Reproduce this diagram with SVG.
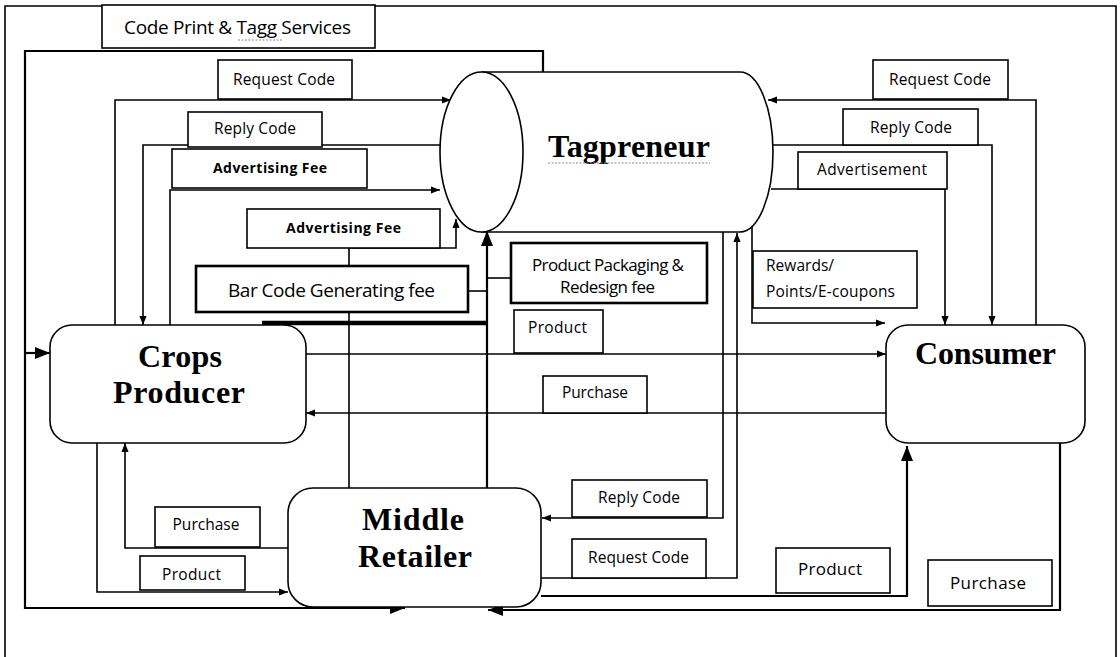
<svg xmlns="http://www.w3.org/2000/svg" width="1120" height="657" viewBox="0 0 1120 657">
<style>
.ln{fill:none;stroke:#000;stroke-width:1.6}
.lt{fill:none;stroke:#000;stroke-width:2.2}
.bx{fill:#fff;stroke:#000;stroke-width:1.6}
.bt{fill:#fff;stroke:#000;stroke-width:2.6}
.nd{fill:#fff;stroke:#000;stroke-width:1.6}
.lb{font-family:"Open Sans","Liberation Sans",sans-serif;font-size:15.5px;fill:#000;text-anchor:middle}
.lbb{font-family:"Open Sans","Liberation Sans",sans-serif;font-size:14px;font-weight:bold;fill:#000;text-anchor:middle}
.nt{font-family:"Liberation Serif","DejaVu Serif",serif;font-size:32px;font-weight:bold;fill:#000;text-anchor:middle}
.sq{fill:none;stroke:#888;stroke-width:1;stroke-dasharray:2 1.5}
.big{font-size:19px}
.mid{font-size:17px}
.st{text-anchor:start}
</style>
<defs>
<marker id="ah" viewBox="0 0 10 10" refX="10" refY="5" markerWidth="9" markerHeight="9" markerUnits="userSpaceOnUse" orient="auto"><path d="M0,1 L10,5 L0,9 z" fill="#000"/></marker>
<marker id="ahL" viewBox="0 0 10 10" refX="10" refY="5" markerWidth="15" markerHeight="15" markerUnits="userSpaceOnUse" orient="auto"><path d="M0,1 L10,5 L0,9 z" fill="#000"/></marker>
</defs>
<rect width="1120" height="657" fill="#fff"/>
<path d="M5,657 V6 H1116 V657" fill="none" stroke="#000" stroke-width="1.6"/>

<g id="connectors">
<path class="lt" d="M543,72 V51 H25 V608 H405" marker-end="url(#ahL)"/>
<path class="lt" d="M25,353 H50" marker-end="url(#ahL)"/>
<path class="ln" d="M115,325 V100 H451" marker-end="url(#ah)"/>
<path class="ln" d="M440,145 H143 V325" marker-end="url(#ah)"/>
<path class="ln" d="M170,325 V190 H440" marker-end="url(#ah)"/>
<path class="ln" d="M349,488 V248 H456 V219" marker-end="url(#ah)"/>
<path class="ln" d="M468,291 H487"/>
<path class="ln" d="M511,278 H487"/>
<path class="lt" d="M487,488 V231" marker-end="url(#ahL)"/>
<path d="M262,323 H487" stroke="#000" stroke-width="4.5" fill="none"/>
<path class="ln" d="M306,354 H886" marker-end="url(#ah)"/>
<path class="ln" d="M886,413 H306" marker-end="url(#ah)"/>
<path class="ln" d="M1036,325 V100 H768" marker-end="url(#ah)"/>
<path class="ln" d="M772,145 H992 V325" marker-end="url(#ah)"/>
<path class="ln" d="M771,189 H945 V325" marker-end="url(#ah)"/>
<path class="ln" d="M752,227 V323 H885" marker-end="url(#ah)"/>
<path class="ln" d="M723,232 V518 H542" marker-end="url(#ah)"/>
<path class="ln" d="M541,578 H737 V233" marker-end="url(#ah)"/>
<path class="lt" d="M541,596 H907 V446" marker-end="url(#ahL)"/>
<path class="lt" d="M1060,443 V610 H488" marker-end="url(#ahL)"/>
<path class="ln" d="M97,443 V592 H288" marker-end="url(#ah)"/>
<path class="ln" d="M288,548 H125 V443" marker-end="url(#ah)"/>
</g>

<g id="tagpreneur">
<path class="nd" d="M482,72 H740 A33,80 0 0 1 740,232 H482 Z"/>
<ellipse class="nd" cx="481.5" cy="152" rx="41.5" ry="80"/>
<text class="nt" x="629" y="157" textLength="162">Tagpreneur</text>
<path class="sq" d="M548,163 H710"/>
</g>
<g id="crops-producer">
<rect class="nd" x="50" y="325" width="256" height="118" rx="22"/>
<text class="nt" x="180" y="367" textLength="84">Crops</text>
<text class="nt" x="179" y="403" textLength="132">Producer</text>
</g>
<g id="consumer">
<rect class="nd" x="886" y="325" width="199" height="118" rx="22"/>
<text class="nt" x="985.5" y="364" textLength="141">Consumer</text>
</g>
<g id="middle-retailer">
<rect class="nd" x="288" y="488" width="253" height="119" rx="25"/>
<text class="nt" x="413" y="530" textLength="102">Middle</text>
<text class="nt" x="415" y="567" textLength="114">Retailer</text>
</g>

<g id="code-print">
<rect class="bx" x="102" y="5" width="273" height="43"/>
<text class="lb big" x="237.5" y="34" textLength="227">Code Print &amp; Tagg Services</text>
<path class="sq" d="M238,40 H282"/>
</g>
<g id="request-code-left">
<rect class="bx" x="218" y="60" width="134" height="39"/>
<text class="lb" x="284" y="85" textLength="102">Request Code</text>
</g>
<g id="reply-code-left">
<rect class="bx" x="188" y="112" width="134" height="35"/>
<text class="lb" x="255" y="134" textLength="82">Reply Code</text>
</g>
<g id="advertising-fee-1">
<rect class="bx" x="172" y="149" width="195" height="39"/>
<text class="lbb" x="270" y="173" textLength="114">Advertising Fee</text>
</g>
<g id="advertising-fee-2">
<rect class="bx" x="247" y="209" width="193" height="39"/>
<text class="lbb" x="343.5" y="233" textLength="115">Advertising Fee</text>
</g>
<g id="bar-code-fee">
<rect class="bt" x="196" y="266" width="272" height="46"/>
<text class="lb big" x="331.5" y="297" textLength="207">Bar Code Generating fee</text>
</g>
<g id="packaging-fee">
<rect class="bt" x="511" y="243" width="196" height="60"/>
<text class="lb mid" x="608" y="271" textLength="152">Product Packaging &amp;</text>
<text class="lb mid" x="607.5" y="293" textLength="95">Redesign fee</text>
</g>
<g id="product-mid">
<rect class="bx" x="514" y="310" width="89" height="43"/>
<text class="lb" x="557.5" y="333" textLength="59">Product</text>
</g>
<g id="purchase-mid">
<rect class="bx" x="543" y="376" width="104" height="37"/>
<text class="lb" x="595" y="398" textLength="66">Purchase</text>
</g>
<g id="request-code-right">
<rect class="bx" x="873" y="60" width="135" height="39"/>
<text class="lb" x="940" y="85" textLength="102">Request Code</text>
</g>
<g id="reply-code-right">
<rect class="bx" x="843" y="109" width="135" height="36"/>
<text class="lb" x="911" y="133" textLength="82">Reply Code</text>
</g>
<g id="advertisement">
<rect class="bx" x="798" y="152" width="149" height="37"/>
<text class="lb" x="872" y="175" textLength="110">Advertisement</text>
</g>
<g id="rewards">
<rect class="bx" x="753" y="251" width="164" height="57"/>
<text class="lb st" x="766" y="271" textLength="68">Rewards/</text>
<text class="lb st" x="766" y="297" textLength="129">Points/E-coupons</text>
</g>
<g id="purchase-left">
<rect class="bx" x="155" y="507" width="105" height="40"/>
<text class="lb" x="206" y="530" textLength="67">Purchase</text>
</g>
<g id="product-left">
<rect class="bx" x="140" y="556" width="105" height="34"/>
<text class="lb" x="191.5" y="580" textLength="59">Product</text>
</g>
<g id="reply-code-mid">
<rect class="bx" x="572" y="480" width="135" height="37"/>
<text class="lb" x="639" y="503" textLength="82">Reply Code</text>
</g>
<g id="request-code-mid">
<rect class="bx" x="572" y="539" width="134" height="39"/>
<text class="lb" x="638.5" y="563" textLength="101">Request Code</text>
</g>
<g id="product-right">
<rect class="bx" x="776" y="548" width="114" height="45"/>
<text class="lb mid" x="830" y="575" textLength="64">Product</text>
</g>
<g id="purchase-right">
<rect class="bx" x="928" y="560" width="124" height="46"/>
<text class="lb mid" x="988" y="589" textLength="76">Purchase</text>
</g>
</svg>
